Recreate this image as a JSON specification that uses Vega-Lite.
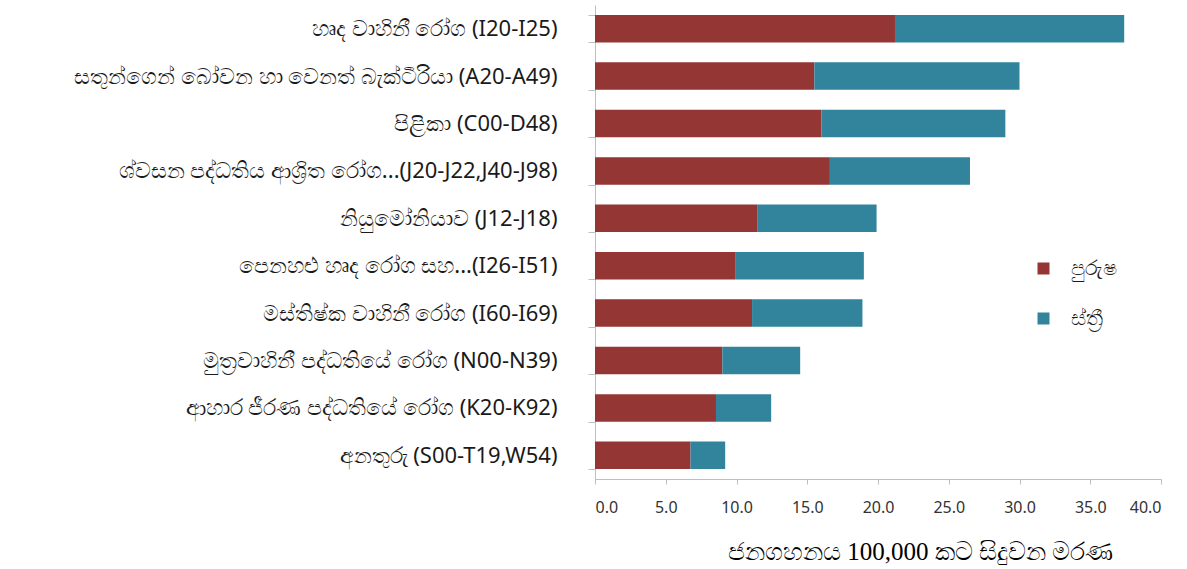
{
  "$schema": "https://vega.github.io/schema/vega-lite/v6.json",
  "width": 566,
  "height": 474,
  "autosize": "none",
  "padding": {"left": 595, "top": 5, "right": 26, "bottom": 90},
  "config": {
    "view": {"stroke": null},
    "font": "Noto Sans",
    "axis": {"grid": false}
  },
  "data": {
    "values": [
      {"cause": "හෘද වාහිනී රෝග (I20-I25)", "sex": "පුරුෂ", "rate": 21.2},
      {"cause": "හෘද වාහිනී රෝග (I20-I25)", "sex": "ස්ත්‍රී", "rate": 16.2},
      {"cause": "සතුන්ගෙන් බෝවන හා වෙනත් බැක්ටීරියා (A20-A49)", "sex": "පුරුෂ", "rate": 15.5},
      {"cause": "සතුන්ගෙන් බෝවන හා වෙනත් බැක්ටීරියා (A20-A49)", "sex": "ස්ත්‍රී", "rate": 14.5},
      {"cause": "පිළිකා (C00-D48)", "sex": "පුරුෂ", "rate": 16.0},
      {"cause": "පිළිකා (C00-D48)", "sex": "ස්ත්‍රී", "rate": 13.0},
      {"cause": "ශ්වසන පද්ධතිය ආශ්‍රිත රෝග...(J20-J22,J40-J98)", "sex": "පුරුෂ", "rate": 16.6},
      {"cause": "ශ්වසන පද්ධතිය ආශ්‍රිත රෝග...(J20-J22,J40-J98)", "sex": "ස්ත්‍රී", "rate": 9.9},
      {"cause": "නියුමෝනියාව (J12-J18)", "sex": "පුරුෂ", "rate": 11.5},
      {"cause": "නියුමෝනියාව (J12-J18)", "sex": "ස්ත්‍රී", "rate": 8.4},
      {"cause": "පෙනහළු හෘද රෝග සහ...(I26-I51)", "sex": "පුරුෂ", "rate": 9.9},
      {"cause": "පෙනහළු හෘද රෝග සහ...(I26-I51)", "sex": "ස්ත්‍රී", "rate": 9.1},
      {"cause": "මස්තිෂ්ක වාහිනී රෝග (I60-I69)", "sex": "පුරුෂ", "rate": 11.1},
      {"cause": "මස්තිෂ්ක වාහිනී රෝග (I60-I69)", "sex": "ස්ත්‍රී", "rate": 7.8},
      {"cause": "මුත්‍රවාහිනී පද්ධතියේ රෝග (N00-N39)", "sex": "පුරුෂ", "rate": 9.0},
      {"cause": "මුත්‍රවාහිනී පද්ධතියේ රෝග (N00-N39)", "sex": "ස්ත්‍රී", "rate": 5.5},
      {"cause": "ආහාර ජීරණ  පද්ධතියේ රෝග (K20-K92)", "sex": "පුරුෂ", "rate": 8.55},
      {"cause": "ආහාර ජීරණ  පද්ධතියේ රෝග (K20-K92)", "sex": "ස්ත්‍රී", "rate": 3.9},
      {"cause": "අනතුරු (S00-T19,W54)", "sex": "පුරුෂ", "rate": 6.75},
      {"cause": "අනතුරු (S00-T19,W54)", "sex": "ස්ත්‍රී", "rate": 2.45}
    ]
  },
  "mark": {"type": "bar"},
  "encoding": {
    "y": {
      "field": "cause",
      "type": "nominal",
      "sort": [
        "හෘද වාහිනී රෝග (I20-I25)",
        "සතුන්ගෙන් බෝවන හා වෙනත් බැක්ටීරියා (A20-A49)",
        "පිළිකා (C00-D48)",
        "ශ්වසන පද්ධතිය ආශ්‍රිත රෝග...(J20-J22,J40-J98)",
        "නියුමෝනියාව (J12-J18)",
        "පෙනහළු හෘද රෝග සහ...(I26-I51)",
        "මස්තිෂ්ක වාහිනී රෝග (I60-I69)",
        "මුත්‍රවාහිනී පද්ධතියේ රෝග (N00-N39)",
        "ආහාර ජීරණ  පද්ධතියේ රෝග (K20-K92)",
        "අනතුරු (S00-T19,W54)"
      ],
      "scale": {"paddingInner": 0.42, "paddingOuter": 0.21},
      "axis": {
        "title": null,
        "tickBand": "extent",
        "domainColor": "#bfbfbf",
        "tickColor": "#bfbfbf",
        "tickSize": 7,
        "labelPadding": 31,
        "labelLimit": 0,
        "labelFontSize": 22,
        "labelColor": "#1a1a1a"
      }
    },
    "x": {
      "field": "rate",
      "type": "quantitative",
      "stack": "zero",
      "scale": {"domain": [0, 40]},
      "axis": {
        "values": [0, 5, 10, 15, 20, 25, 30, 35, 40],
        "format": ".1f",
        "domainColor": "#bfbfbf",
        "tickColor": "#bfbfbf",
        "tickSize": 5,
        "labelPadding": 15,
        "labelFontSize": 16,
        "labelColor": "#333333",
        "title": "ජනගහනය 100,000 කට සිදුවන මරණ",
        "titleFont": "Liberation Serif",
        "titleFontSize": 25,
        "titleFontWeight": "normal",
        "titleColor": "#000000",
        "titleX": 325,
        "titleY": 72,
        "titleAlign": "center",
        "titleBaseline": "middle"
      }
    },
    "color": {
      "field": "sex",
      "type": "nominal",
      "scale": {"domain": ["පුරුෂ", "ස්ත්‍රී"], "range": ["#943634", "#31849b"]},
      "legend": {
        "title": null,
        "orient": "none",
        "legendX": 438,
        "legendY": 253,
        "symbolType": "square",
        "symbolSize": 144,
        "symbolStrokeWidth": 0,
        "symbolOpacity": 1,
        "labelFontSize": 21,
        "labelColor": "#1a1a1a",
        "labelOffset": 17,
        "rowPadding": 28
      }
    }
  }
}
